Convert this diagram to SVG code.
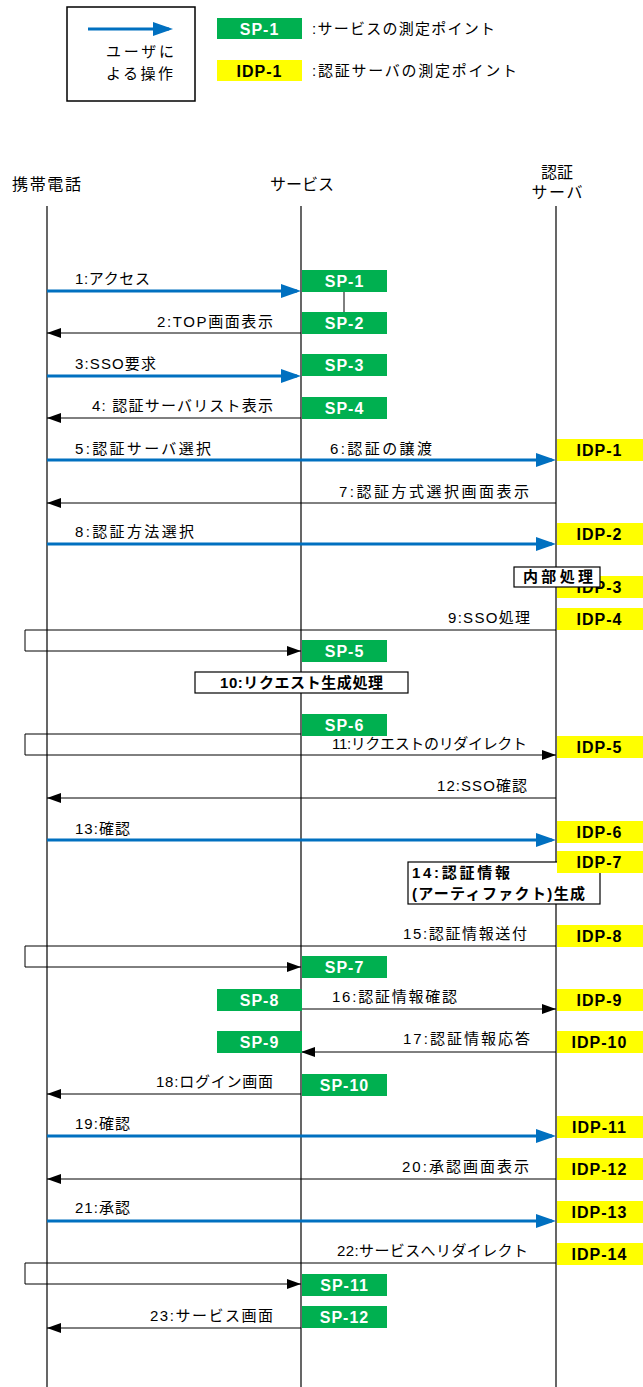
<svg xmlns="http://www.w3.org/2000/svg" width="643" height="1387" viewBox="0 0 643 1387">
<style>
text{font-family:"Liberation Sans","Noto Sans CJK JP",sans-serif;fill:#000}
.lbl{font-size:15px}
.hdr{font-size:16px}
.ll{stroke:#000;stroke-width:1.2}
.msg{stroke:#000;stroke-width:1;fill:none}
.usr{stroke:#0070C0;stroke-width:3;fill:none}
.sp rect{fill:#00B050}
.sp text{fill:#fff;font-weight:bold;font-size:16px;letter-spacing:1px;text-anchor:middle}
.idp rect{fill:#FFFF00}
.idp text{fill:#000;font-weight:bold;font-size:16px;letter-spacing:1px;text-anchor:middle}
.proc rect{fill:#fff;stroke:#000;stroke-width:1.2}
.proc text{font-weight:bold;font-size:15px}
</style>
<defs>
<marker id="ub" viewBox="0 0 20 14" refX="16" refY="7" markerWidth="20" markerHeight="14" markerUnits="userSpaceOnUse" orient="auto"><path d="M0,0 L20,7 L0,14 z" fill="#0070C0"/></marker>
<marker id="bk" viewBox="0 0 14 10" refX="14" refY="5" markerWidth="14" markerHeight="10" markerUnits="userSpaceOnUse" orient="auto"><path d="M0,0 L14,5 L0,10 z" fill="#000"/></marker>
</defs>

<g id="legend">
<rect x="67" y="7" width="128" height="94" fill="#fff" stroke="#000" stroke-width="1.5"/>
<line x1="88" y1="29" x2="169" y2="29" class="usr" marker-end="url(#ub)"/>
<text x="106" y="57" class="lbl" textLength="68" lengthAdjust="spacing">ユーザに</text>
<text x="106" y="79" class="lbl" textLength="67" lengthAdjust="spacing">よる操作</text>
<g class="sp"><rect x="217" y="18" width="85" height="21"/><text x="259.5" y="35">SP-1</text></g>
<text x="312" y="34" class="lbl" textLength="183" lengthAdjust="spacing">:サービスの測定ポイント</text>
<g class="idp"><rect x="217" y="60" width="85" height="21"/><text x="259.5" y="77">IDP-1</text></g>
<text x="312" y="76" class="lbl" textLength="205" lengthAdjust="spacing">:認証サーバの測定ポイント</text>
</g>

<g id="phone">
<text x="12" y="190" class="hdr" textLength="69" lengthAdjust="spacing">携帯電話</text>
<line x1="47" y1="206" x2="47" y2="1387" class="ll"/>
</g>
<g id="service">
<text x="270" y="190" class="hdr" textLength="64" lengthAdjust="spacing">サービス</text>
<line x1="301" y1="206" x2="301" y2="1387" class="ll"/>
</g>
<g id="authserver">
<text x="557" y="178" class="hdr" text-anchor="middle">認証</text>
<text x="557" y="198" class="hdr" text-anchor="middle" textLength="51" lengthAdjust="spacing">サーバ</text>
<line x1="556" y1="206" x2="556" y2="1387" class="ll"/>
</g>

<g id="connectors">
<line x1="47" y1="291" x2="297" y2="291" class="usr" marker-end="url(#ub)"/>
<text x="75" y="284" class="lbl" textLength="75" lengthAdjust="spacing">1:アクセス</text>
<line x1="344" y1="292" x2="344" y2="312" class="msg"/>
<line x1="301" y1="333" x2="47" y2="333" class="msg" marker-end="url(#bk)"/>
<text x="273" y="327" class="lbl" text-anchor="end" textLength="116" lengthAdjust="spacing">2:TOP画面表示</text>
<line x1="47" y1="376" x2="297" y2="376" class="usr" marker-end="url(#ub)"/>
<text x="75" y="369" class="lbl" textLength="81" lengthAdjust="spacing">3:SSO要求</text>
<line x1="301" y1="418" x2="47" y2="418" class="msg" marker-end="url(#bk)"/>
<text x="273" y="411" class="lbl" text-anchor="end" textLength="181" lengthAdjust="spacing">4: 認証サーバリスト表示</text>
<line x1="47" y1="460" x2="552" y2="460" class="usr" marker-end="url(#ub)"/>
<text x="75" y="454" class="lbl" textLength="136" lengthAdjust="spacing">5:認証サーバ選択</text>
<text x="330" y="454" class="lbl" textLength="102" lengthAdjust="spacing">6:認証の譲渡</text>
<line x1="556" y1="503" x2="47" y2="503" class="msg" marker-end="url(#bk)"/>
<text x="529" y="497" class="lbl" text-anchor="end" textLength="190" lengthAdjust="spacing">7:認証方式選択画面表示</text>
<line x1="47" y1="544" x2="552" y2="544" class="usr" marker-end="url(#ub)"/>
<text x="75" y="537" class="lbl" textLength="119" lengthAdjust="spacing">8:認証方法選択</text>
<polyline points="556,630 25,630 25,651 301,651" class="msg" marker-end="url(#bk)"/>
<text x="530" y="623" class="lbl" text-anchor="end" textLength="82" lengthAdjust="spacing">9:SSO処理</text>
<polyline points="301,734 25,734 25,755 556,755" class="msg" marker-end="url(#bk)"/>
<text x="527" y="749" class="lbl" text-anchor="end" textLength="195" lengthAdjust="spacing">11:リクエストのリダイレクト</text>
<line x1="556" y1="798" x2="47" y2="798" class="msg" marker-end="url(#bk)"/>
<text x="527" y="791" class="lbl" text-anchor="end" textLength="90" lengthAdjust="spacing">12:SSO確認</text>
<line x1="47" y1="840" x2="552" y2="840" class="usr" marker-end="url(#ub)"/>
<text x="75" y="834" class="lbl" textLength="55" lengthAdjust="spacing">13:確認</text>
<polyline points="556,946 25,946 25,967 301,967" class="msg" marker-end="url(#bk)"/>
<text x="527" y="939" class="lbl" text-anchor="end" textLength="124" lengthAdjust="spacing">15:認証情報送付</text>
<line x1="301" y1="1009" x2="556" y2="1009" class="msg" marker-end="url(#bk)"/>
<text x="332" y="1002" class="lbl" textLength="125" lengthAdjust="spacing">16:認証情報確認</text>
<line x1="556" y1="1052" x2="301" y2="1052" class="msg" marker-end="url(#bk)"/>
<text x="530" y="1044" class="lbl" text-anchor="end" textLength="127" lengthAdjust="spacing">17:認証情報応答</text>
<line x1="301" y1="1094" x2="47" y2="1094" class="msg" marker-end="url(#bk)"/>
<text x="273" y="1087" class="lbl" text-anchor="end" textLength="117" lengthAdjust="spacing">18:ログイン画面</text>
<line x1="47" y1="1136" x2="552" y2="1136" class="usr" marker-end="url(#ub)"/>
<text x="75" y="1129" class="lbl" textLength="55" lengthAdjust="spacing">19:確認</text>
<line x1="556" y1="1179" x2="47" y2="1179" class="msg" marker-end="url(#bk)"/>
<text x="529" y="1172" class="lbl" text-anchor="end" textLength="127" lengthAdjust="spacing">20:承認画面表示</text>
<line x1="47" y1="1221" x2="552" y2="1221" class="usr" marker-end="url(#ub)"/>
<text x="75" y="1213" class="lbl" textLength="55" lengthAdjust="spacing">21:承認</text>
<polyline points="556,1263 25,1263 25,1284 301,1284" class="msg" marker-end="url(#bk)"/>
<text x="528" y="1256" class="lbl" text-anchor="end" textLength="191" lengthAdjust="spacing">22:サービスへリダイレクト</text>
<line x1="301" y1="1328" x2="47" y2="1328" class="msg" marker-end="url(#bk)"/>
<text x="273" y="1321" class="lbl" text-anchor="end" textLength="123" lengthAdjust="spacing">23:サービス画面</text>
</g>

<g id="sp1" class="sp"><rect x="302" y="270" width="85" height="22"/><text x="344.5" y="287">SP-1</text></g>
<g id="sp2" class="sp"><rect x="302" y="312" width="85" height="22"/><text x="344.5" y="329">SP-2</text></g>
<g id="sp3" class="sp"><rect x="302" y="354" width="85" height="22"/><text x="344.5" y="371">SP-3</text></g>
<g id="sp4" class="sp"><rect x="302" y="397" width="85" height="22"/><text x="344.5" y="414">SP-4</text></g>
<g id="sp5" class="sp"><rect x="302" y="640" width="85" height="22"/><text x="344.5" y="657">SP-5</text></g>
<g id="sp6" class="sp"><rect x="302" y="714" width="85" height="22"/><text x="344.5" y="731">SP-6</text></g>
<g id="sp7" class="sp"><rect x="302" y="956" width="85" height="22"/><text x="344.5" y="973">SP-7</text></g>
<g id="sp8" class="sp"><rect x="217" y="989" width="85" height="22"/><text x="259.5" y="1006">SP-8</text></g>
<g id="sp9" class="sp"><rect x="217" y="1031" width="85" height="22"/><text x="259.5" y="1048">SP-9</text></g>
<g id="sp10" class="sp"><rect x="302" y="1074" width="85" height="22"/><text x="344.5" y="1091">SP-10</text></g>
<g id="sp11" class="sp"><rect x="302" y="1274" width="85" height="22"/><text x="344.5" y="1291">SP-11</text></g>
<g id="sp12" class="sp"><rect x="302" y="1306" width="85" height="22"/><text x="344.5" y="1323">SP-12</text></g>

<g id="idp1" class="idp"><rect x="557" y="439" width="86" height="22"/><text x="599.5" y="456">IDP-1</text></g>
<g id="idp2" class="idp"><rect x="557" y="523" width="86" height="22"/><text x="599.5" y="540">IDP-2</text></g>
<g id="idp3" class="idp"><rect x="557" y="576" width="86" height="22"/><text x="599.5" y="593">IDP-3</text></g>
<g id="proc-internal" class="proc"><rect x="514" y="567" width="86" height="20"/><text x="523" y="582" textLength="70" lengthAdjust="spacing">内部処理</text></g>
<g id="idp4" class="idp"><rect x="557" y="608" width="86" height="22"/><text x="599.5" y="625">IDP-4</text></g>
<g id="proc-10" class="proc"><rect x="195" y="672" width="213" height="21"/><text x="220" y="688" textLength="163" lengthAdjust="spacing">10:リクエスト生成処理</text></g>
<g id="idp5" class="idp"><rect x="557" y="736" width="86" height="22"/><text x="599.5" y="753">IDP-5</text></g>
<g id="idp6" class="idp"><rect x="557" y="821" width="86" height="22"/><text x="599.5" y="838">IDP-6</text></g>
<g id="proc-14" class="proc"><rect x="408" y="862" width="192" height="42"/><text x="412" y="878" textLength="98" lengthAdjust="spacing">14:認証情報</text><text x="412" y="899" textLength="173" lengthAdjust="spacing">(アーティファクト)生成</text></g>
<g id="idp7" class="idp"><rect x="557" y="851" width="86" height="22"/><text x="599.5" y="868">IDP-7</text></g>
<g id="idp8" class="idp"><rect x="557" y="925" width="86" height="22"/><text x="599.5" y="942">IDP-8</text></g>
<g id="idp9" class="idp"><rect x="557" y="989" width="86" height="22"/><text x="599.5" y="1006">IDP-9</text></g>
<g id="idp10" class="idp"><rect x="557" y="1031" width="86" height="22"/><text x="599.5" y="1048">IDP-10</text></g>
<g id="idp11" class="idp"><rect x="557" y="1116" width="86" height="22"/><text x="599.5" y="1133">IDP-11</text></g>
<g id="idp12" class="idp"><rect x="557" y="1158" width="86" height="22"/><text x="599.5" y="1175">IDP-12</text></g>
<g id="idp13" class="idp"><rect x="557" y="1201" width="86" height="22"/><text x="599.5" y="1218">IDP-13</text></g>
<g id="idp14" class="idp"><rect x="557" y="1243" width="86" height="22"/><text x="599.5" y="1260">IDP-14</text></g>
</svg>
